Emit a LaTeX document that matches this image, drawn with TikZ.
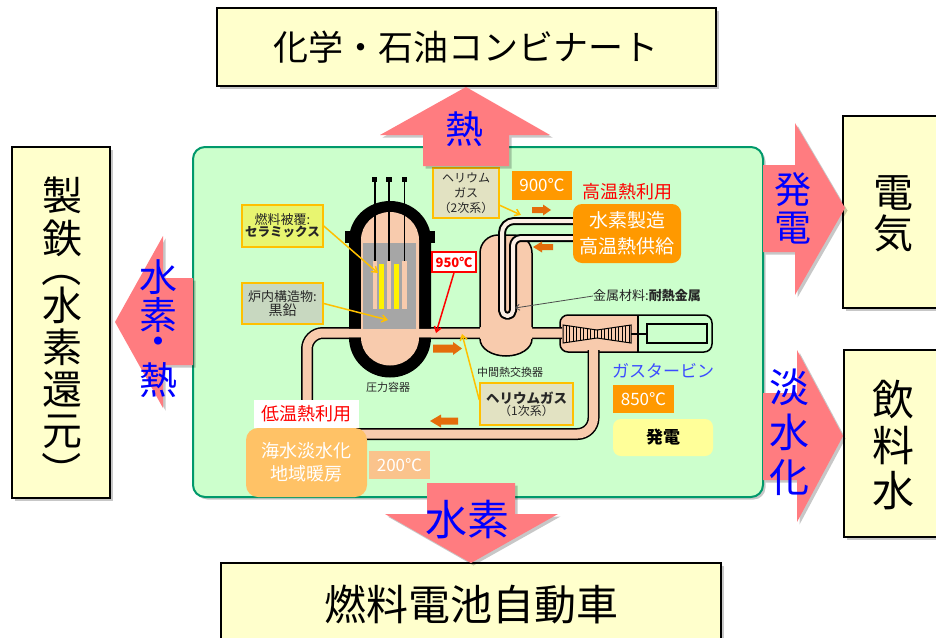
\documentclass[tikz,border=0pt]{standalone}
\usepackage{fontspec}
\setmainfont{Noto Sans CJK JP}
\usetikzlibrary{arrows.meta}
\definecolor{boxy}{HTML}{FFFFCC}
\definecolor{pinka}{HTML}{FF7C80}
\definecolor{greenbg}{HTML}{CCFFCC}
\definecolor{greenbd}{HTML}{00996B}
\definecolor{peach}{HTML}{F8CBAD}
\definecolor{orng}{HTML}{FF9900}
\definecolor{lorng}{HTML}{FFC266}
\definecolor{lorng2}{HTML}{FAC38C}
\definecolor{dorng}{HTML}{E46C0A}
\definecolor{gold}{HTML}{FFC000}
\definecolor{blu}{HTML}{0000FF}
\definecolor{tubec}{HTML}{FCEEE4}
\definecolor{coregray}{HTML}{A6A6A6}
\definecolor{heboxc}{HTML}{E2E2C2}
\definecolor{fuelc}{HTML}{E8F570}
\definecolor{graphc}{HTML}{C8D8C0}
\definecolor{gtblue}{HTML}{3B4BFF}
\definecolor{genc}{HTML}{FFFF99}
\begin{document}
\begin{tikzpicture}[x=1pt,y=1pt,yscale=-1,
  shad/.style={preaction={fill=black,fill opacity=0.22,transform canvas={xshift=2.5pt,yshift=-2.5pt}}},
  outbox/.style={draw=black,line width=2,fill=boxy,shad},
  bigtxt/.style={inner sep=0,text=black},
  bluetxt/.style={inner sep=0,text=blu},
  small/.style={inner sep=0,text=black!85,font=\fontsize{11}{13}\selectfont},
  lblbox/.style={draw=gold,line width=1.5,inner sep=0,align=center,text=black!85},
  leader/.style={draw=gold,line width=1.5,-{Straight Barb[length=5pt,width=7pt]}},
  arrowpink/.style={fill=pinka,shad},
  oarrow/.style={fill=dorng},
  tubeline/.style={double=tubec,double distance=4,line width=2,line join=round},
  pipeline/.style={double=peach,double distance=9,line width=1.5,rounded corners=16}
]
\useasboundingbox (0,0) rectangle (936,637);

% ---------- outer boxes ----------
\path[outbox] (217,8) rectangle (716,86);
\node[bigtxt,font=\fontsize{35}{35}\selectfont] (chem) at (466,47) {化学・石油コンビナート};

\path[outbox] (221,563) rectangle (721,650);
\node[bigtxt,font=\fontsize{42}{42}\selectfont] (fcv) at (471,605) {燃料電池自動車};

\path[outbox] (12,147) rectangle (110,498);
\foreach \c/\yy [count=\i] in {製/195,鉄/238,水/305,素/347,還/390,元/432}
  \node[bigtxt,font=\fontsize{40}{40}\selectfont] (st\i) at (62,\yy) {\c};
\node[bigtxt,font=\fontsize{40}{40}\selectfont,rotate=-90] (stl) at (62,267) {（};
\node[bigtxt,font=\fontsize{40}{40}\selectfont,rotate=-90] (str) at (62,471) {）};

\path[outbox] (843,116) rectangle (945,308);
\node[bigtxt,font=\fontsize{40}{40}\selectfont] (el1) at (893,193) {電};
\node[bigtxt,font=\fontsize{40}{40}\selectfont] (el2) at (893,233) {気};

\path[outbox] (844,350) rectangle (945,537);
\node[bigtxt,font=\fontsize{42}{42}\selectfont] (dw1) at (893,400) {飲};
\node[bigtxt,font=\fontsize{42}{42}\selectfont] (dw2) at (893,446) {料};
\node[bigtxt,font=\fontsize{42}{42}\selectfont] (dw3) at (893,491) {水};

% ---------- green panel ----------
\path[fill=greenbg,draw=greenbd,line width=2,rounded corners=12,shad] (193,147) rectangle (763,497);

% ---------- gas turbine ----------
\fill[peach,rounded corners=8] (560,315) rectangle (712,352);
\fill[greenbg,rounded corners=8] (638,315) rectangle (712,352);
\fill[greenbg] (638,315) rectangle (650,352);
\draw[line width=1.5,rounded corners=8] (560,315) rectangle (712,352);
\draw[line width=1.5] (638,315) -- (638,352);
\filldraw[fill=peach,line width=1] (563,325) -- (597,330) -- (631,325) -- (631,343) -- (597,338) -- (563,343) -- cycle;
\begin{scope}
  \clip (563,325) -- (597,330) -- (631,325) -- (631,343) -- (597,338) -- (563,343) -- cycle;
  \foreach \xx in {566,569.5,...,630} \draw[line width=0.9] (\xx,320) -- (\xx,348);
\end{scope}
\draw[fill=greenbg,line width=1.5] (647,324) rectangle (707,343);
\draw[line width=2] (631,334) -- (647,334);

% ---------- primary pipe ----------
\draw[pipeline] (562,333) -- (307,333) -- (307,434) -- (593.5,434) -- (593.5,350);

% ---------- pressure vessel ----------
\fill[black] (349,328.5) -- (349,240) arc[start angle=180,end angle=360,x radius=41,y radius=39] -- (431,328.5) -- cycle;
\fill[black] (345,231) rectangle (350,243);
\fill[black] (430,231) rectangle (435,243);
\fill[peach] (361,330) -- (361,240) arc[start angle=180,end angle=360,x radius=29,y radius=28] -- (419,330) -- cycle;
\fill[black] (349,337.5) arc[start angle=180,end angle=0,x radius=41,y radius=40] -- cycle;
\fill[peach] (361,336) -- (361,337.5) arc[start angle=180,end angle=0,x radius=29,y radius=28] -- (419,336) -- cycle;
\fill[coregray] (363,243) rectangle (416,328.5);
\fill[peach] (372.7,261) rectangle (376.7,309);
\fill[peach] (387,261) rectangle (390.8,309);
\fill[peach] (402.3,261) rectangle (406.7,309);
\fill[yellow] (379,264) rectangle (384.3,309);
\fill[yellow] (394.3,264) rectangle (399.3,309);
\foreach \rx in {374.7,389,404.5} {
  \draw[line width=1.8] (\rx,180) -- (\rx,261);
  \fill[black] (\rx-2.6,176.5) rectangle (\rx+2.6,182);
}

% ---------- intermediate heat exchanger ----------
\fill[peach] (480,331) [rounded corners=18] -- (480,235) -- (532,235) [sharp corners] -- (532,331) -- cycle;
\draw[line width=1.5] (480,327) [rounded corners=18] -- (480,235) -- (532,235) [sharp corners] -- (532,327);
\fill[peach] (480,336) -- (480,339) arc[start angle=180,end angle=0,x radius=26,y radius=17] -- (532,336) -- cycle;
\draw[line width=1.5] (480,339) arc[start angle=180,end angle=0,x radius=26,y radius=17];

% ---------- U tube ----------
\draw[tubeline] (576,221) [rounded corners=12] -- (502,221) [rounded corners=5.5] -- (502,316) -- (513,316) [rounded corners=8] -- (513,238) -- (576,238);

% ---------- labels, upper area ----------
\node[lblbox,fill=fuelc,minimum width=81,minimum height=42] (fuel) at (282.5,226)
  {{\fontsize{13}{17}\selectfont 燃料被覆:}\\{\fontsize{12.5}{17}\selectfont\bfseries セラミックス}};
\node[lblbox,fill=graphc,minimum width=81,minimum height=41] (graph) at (282.5,303.5)
  {{\fontsize{13}{17}\selectfont 炉内構造物:}\\{\fontsize{14}{17}\selectfont 黒鉛}};
\coordinate (tfuel) at (378,273);
\coordinate (tgraph) at (388,320);
\draw[leader] (fuel.east) -- (tfuel);
\draw[leader] (graph.east) -- (tgraph);

\node[lblbox,fill=heboxc,minimum width=66,minimum height=50,font=\fontsize{12}{15}\selectfont] (he2) at (466,193)
  {ヘリウム\\ガス\\（2次系）};
\coordinate (the2) at (521,215);
\draw[leader] (he2.-20) -- (the2);

\node[fill=orng,inner sep=0,minimum width=60,minimum height=29,text=white,font=\fontsize{17}{17}\selectfont] (t900) at (542,185.5) {900℃};
\fill[oarrow] (532,207) -- (543,207) -- (543,204.5) -- (551,210) -- (543,215.5) -- (543,213) -- (532,213) -- cycle;
\fill[oarrow] (553,244) -- (542,244) -- (542,241.5) -- (533,247) -- (542,252.5) -- (542,250) -- (553,250) -- cycle;

\node[inner sep=0,text=red,font=\fontsize{18}{18}\selectfont] (hiuse) at (627,192) {高温熱利用};
\node[fill=orng,rounded corners=9,inner sep=0,minimum width=108,minimum height=59,text=white,align=center,font=\fontsize{19}{26}\selectfont] (h2prod) at (627,233.5)
  {水素製造\\高温熱供給};

\node[inner sep=0,font=\fontsize{13}{15}\selectfont,text=black!85] (metal) at (647,296) {金属材料:\textbf{耐熱金属}};
\coordinate (tmetal) at (515,308);
\draw[black!70,line width=0.8,-{Straight Barb[length=4pt,width=6pt]}] (metal.west) -- (tmetal);

\node[draw=red,line width=1.5,fill=white,inner sep=0,minimum width=44,minimum height=20,text=red,font=\fontsize{13}{13}\selectfont\bfseries] (t950) at (454,262) {950℃};
\coordinate (t950t) at (436,333);
\draw[red,line width=1.5,-{Straight Barb[length=5pt,width=7pt]}] (t950.south) -- (t950t);

% ---------- labels, lower area ----------
\fill[oarrow] (433,344.5) -- (453,344.5) -- (453,342) -- (462,348.5) -- (453,355) -- (453,352.5) -- (433,352.5) -- cycle;
\fill[oarrow] (458,417.5) -- (441,417.5) -- (441,414.5) -- (430,421) -- (441,427.5) -- (441,424.5) -- (458,424.5) -- cycle;

\node[small] (ihx) at (510,372) {中間熱交換器};
\node[small] (pv) at (388,387) {圧力容器};

\node[lblbox,fill=heboxc,minimum width=93,minimum height=42] (he1) at (526.5,404)
  {{\fontsize{13.5}{18}\selectfont\bfseries ヘリウムガス}\\{\fontsize{12}{15}\selectfont （1次系）}};
\coordinate (the1) at (462,334);
\draw[leader] (he1.175) -- (the1);

\node[fill=white,inner sep=0,minimum width=105,minimum height=28,text=red,font=\fontsize{18}{18}\selectfont] (louse) at (306.5,414) {低温熱利用};
\node[fill=lorng,rounded corners=12,inner sep=0,minimum width=121,minimum height=69,text=white,align=center,font=\fontsize{18}{23}\selectfont] (desal) at (306.5,462.5)
  {海水淡水化\\地域暖房};
\node[fill=lorng2,inner sep=0,minimum width=61,minimum height=28,text=white,font=\fontsize{17}{17}\selectfont] (t200) at (399.5,465) {200℃};

\node[inner sep=0,text=gtblue,font=\fontsize{17}{17}\selectfont] (gt) at (663,371) {ガスタービン};
\node[fill=orng,inner sep=0,minimum width=61,minimum height=28,text=white,font=\fontsize{17}{17}\selectfont] (t850) at (643.5,399) {850℃};
\node[fill=genc,rounded corners=8,inner sep=0,minimum width=100,minimum height=37,font=\fontsize{17}{17}\selectfont\bfseries] (gen) at (663,437.5) {発電};

% ---------- big pink arrows ----------
\path[arrowpink] (423,166) -- (423,135) -- (380,135) -- (466,87) -- (550,135) -- (509,135) -- (509,166) -- cycle;
\path[arrowpink] (763,165) -- (795,165) -- (795,123) -- (845,208) -- (795,295) -- (795,252) -- (763,252) -- cycle;
\path[arrowpink] (763,393) -- (797,393) -- (797,350) -- (843,436) -- (797,522) -- (797,480) -- (763,480) -- cycle;
\path[arrowpink] (193,278) -- (163,278) -- (163,236) -- (115,322) -- (163,408) -- (163,365) -- (193,365) -- cycle;
\path[arrowpink] (427,483) -- (515,483) -- (515,514) -- (558,514) -- (471,563) -- (385,514) -- (427,514) -- cycle;

\node[bluetxt,font=\fontsize{38}{38}\selectfont] (heat) at (464,129) {熱};
\node[bluetxt,font=\fontsize{37}{37}\selectfont] (pw1) at (793,190) {発};
\node[bluetxt,font=\fontsize{37}{37}\selectfont] (pw2) at (793,228) {電};
\node[bluetxt,font=\fontsize{40}{40}\selectfont] (ds1) at (789,387) {淡};
\node[bluetxt,font=\fontsize{40}{40}\selectfont] (ds2) at (789,432) {水};
\node[bluetxt,font=\fontsize{40}{40}\selectfont] (ds3) at (789,478) {化};
\node[bluetxt,font=\fontsize{38}{38}\selectfont] (hh1) at (158,277) {水};
\node[bluetxt,font=\fontsize{38}{38}\selectfont] (hh2) at (158,315) {素};
\node[bluetxt,font=\fontsize{38}{38}\selectfont] (hh3) at (158,346) {・};
\node[bluetxt,font=\fontsize{38}{38}\selectfont] (hh4) at (158,380) {熱};
\node[bluetxt,font=\fontsize{42}{42}\selectfont] (h2b) at (467,520) {水素};
\end{tikzpicture}
\end{document}
